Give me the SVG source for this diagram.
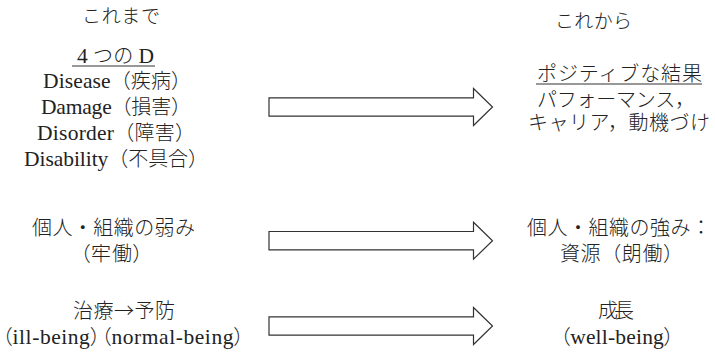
<svg xmlns="http://www.w3.org/2000/svg" xmlns:xlink="http://www.w3.org/1999/xlink" width="715" height="354" viewBox="0 0 715 354">
  <style>
    .t { font-family: "Liberation Serif", "Noto Sans CJK JP", serif; font-size: 20px; fill: #222; font-weight: 300; }
    .t .lat { font-size: 21.5px; font-weight: 400; }
    .t .sym { font-family: "Noto Sans CJK JP", sans-serif; }
    .p { font-feature-settings: "palt"; }
    .h { font-family: "Noto Sans CJK JP", "Liberation Serif", sans-serif; font-size: 19px; fill: #222; font-weight: 300; }
    .ul { stroke: #333; stroke-width: 1.2; }
    .arrow { fill: #fff; stroke: #333; stroke-width: 1.2; stroke-linejoin: miter; }
  </style>
  <defs>
    <!-- block arrow, origin at the tail centre -->
    <path id="blockArrow" d="M0,-9.2 H204.5 V-18.5 L223.5,0 L204.5,18.5 V9.2 H0 Z"/>
  </defs>
  <rect width="715" height="354" fill="#fff"/>

  <g id="heading-before">
    <text class="h" x="82" y="23" textLength="78">これまで</text>
  </g>
  <g id="heading-after">
    <text class="h" x="555" y="28" textLength="77">これから</text>
  </g>

  <g id="node-four-d">
    <text class="t" x="77" y="63" textLength="77"><tspan class="lat">4</tspan> つの <tspan class="lat">D</tspan></text>
    <line class="ul" x1="72" y1="66" x2="155" y2="66"/>
    <text class="t" x="43" y="88" textLength="148"><tspan class="lat">Disease</tspan>（疾病）</text>
    <text class="t" x="41" y="114" textLength="150"><tspan class="lat">Damage</tspan>（損害）</text>
    <text class="t" x="37" y="140" textLength="158"><tspan class="lat">Disorder</tspan>（障害）</text>
    <text class="t" x="24" y="166" textLength="184"><tspan class="lat">Disability</tspan>（不具合）</text>
  </g>

  <g id="node-positive-outcome">
    <text class="t" x="537" y="81" textLength="165">ポジティブな結果</text>
    <line class="ul" x1="536" y1="84" x2="702" y2="84"/>
    <text class="t" x="537" y="107" textLength="158">パフォーマンス，</text>
    <text class="t" x="528" y="130" textLength="182">キャリア，動機づけ</text>
  </g>

  <g id="node-weakness">
    <text class="t" x="32" y="235" textLength="163">個人・組織の弱み</text>
    <text class="t p" x="80" y="261" textLength="63">（牢働）</text>
  </g>

  <g id="node-strength">
    <text class="t" x="527" y="235" textLength="184">個人・組織の強み：</text>
    <text class="t" x="560" y="261" textLength="123">資源（朗働）</text>
  </g>

  <g id="node-treatment">
    <text class="t" x="73" y="318" textLength="102">治療<tspan class="sym">→</tspan>予防</text>
    <text class="t p" x="2" y="344" textLength="242">（<tspan class="lat">ill-being</tspan>）（<tspan class="lat">normal-being</tspan>）</text>
  </g>

  <g id="node-growth">
    <text class="t" x="598" y="318" textLength="36">成長</text>
    <text class="t p" x="560" y="344" textLength="114">（<tspan class="lat">well-being</tspan>）</text>
  </g>

  <g id="connectors">
    <use xlink:href="#blockArrow" class="arrow" transform="translate(269,107)"/>
    <use xlink:href="#blockArrow" class="arrow" transform="translate(269,240.7)"/>
    <use xlink:href="#blockArrow" class="arrow" transform="translate(269,326)"/>
  </g>
</svg>
